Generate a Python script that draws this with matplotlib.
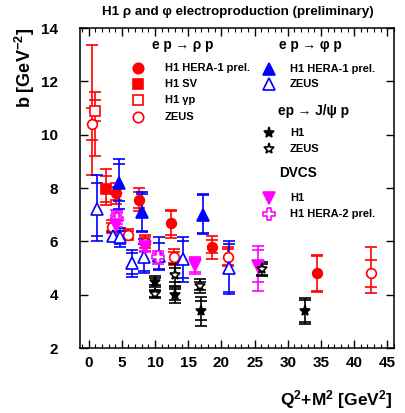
import matplotlib
matplotlib.use("Agg")
import matplotlib.pyplot as plt
from matplotlib.path import Path
import numpy as np

plt.rcParams['font.family'] = ['Liberation Sans', 'DejaVu Sans']
plt.rcParams['font.weight'] = 'bold'
plt.rcParams['mathtext.fontset'] = 'custom'
plt.rcParams['mathtext.rm'] = 'Liberation Sans:bold'
plt.rcParams['mathtext.bf'] = 'Liberation Sans:bold'
plt.rcParams['mathtext.default'] = 'bf'

# ---- data: x, b, total error (down, up), stat error ----
# rho, H1 HERA-1 prel.
rho_h1_x = [4.17, 7.53, 12.45, 18.56, 34.35]
rho_h1_y = [7.80, 7.55, 6.70, 5.80, 4.80]
rho_h1_lo = [0.40, 0.40, 0.59, 0.47, 0.69]
rho_h1_hi = [0.40, 0.45, 0.48, 0.40, 0.69]
rho_h1_st = [0.25, 0.30, 0.45, 0.25, 0.65]

# rho, H1 SV
rho_sv_x = [2.66]
rho_sv_y = [7.96]
rho_sv_lo = [0.60]
rho_sv_hi = [0.75]
rho_sv_st = [0.50]

# rho, H1 gamma p
rho_gp_x = [1.0]
rho_gp_y = [10.9]
rho_gp_lo = [1.70]
rho_gp_hi = [0.70]
rho_gp_st = [0.40]

# rho, ZEUS
rho_zeus_x = [0.56, 3.5, 5.9, 8.53, 12.84, 20.97, 42.55]
rho_zeus_y = [10.4, 6.55, 6.25, 5.95, 5.40, 5.43, 4.80]
rho_zeus_lo = [1.90, 0.25, 0.20, 0.30, 0.30, 0.35, 0.74]
rho_zeus_hi = [2.96, 0.25, 0.20, 0.30, 0.30, 0.35, 1.00]
rho_zeus_st = [0.60, 0.15, 0.15, 0.20, 0.20, 0.30, 0.50]

# phi, H1 HERA-1 prel.
phi_h1_x = [4.6, 7.98, 17.3]
phi_h1_y = [8.20, 7.09, 7.00]
phi_h1_lo = [1.00, 0.73, 0.70]
phi_h1_hi = [0.88, 0.77, 0.78]
phi_h1_st = [0.70, 0.70, 0.72]

# phi, ZEUS
phi_zeus_x = [1.31, 3.6, 4.8, 6.52, 8.32, 10.54, 14.19, 21.22]
phi_zeus_y = [7.20, 6.20, 6.15, 5.18, 5.40, 5.45, 5.33, 5.00]
phi_zeus_lo = [1.20, 0.20, 0.35, 0.53, 0.60, 0.52, 0.84, 0.99]
phi_zeus_hi = [1.30, 0.20, 0.35, 0.50, 0.70, 0.70, 0.82, 1.01]
phi_zeus_st = [1.00, 0.15, 0.25, 0.40, 0.50, 0.50, 0.70, 0.90]

# J/psi, H1
jpsi_h1_x = [10.04, 13.05, 16.96, 32.66]
jpsi_h1_y = [4.49, 4.00, 3.40, 3.39]
jpsi_h1_lo = [0.20, 0.32, 0.57, 0.49]
jpsi_h1_hi = [0.20, 0.30, 0.50, 0.47]
jpsi_h1_st = [0.12, 0.20, 0.35, 0.40]

# J/psi, ZEUS
jpsi_zeus_x = [10.04, 13.05, 16.8, 26.14]
jpsi_zeus_y = [4.03, 4.74, 4.33, 4.95]
jpsi_zeus_lo = [0.15, 0.40, 0.25, 0.25]
jpsi_zeus_hi = [0.15, 0.40, 0.25, 0.29]
jpsi_zeus_st = [0.10, 0.25, 0.15, 0.20]

# DVCS, H1
dvcs_h1_x = [4.17, 8.43, 15.95, 25.48]
dvcs_h1_y = [6.60, 5.80, 5.11, 5.07]
dvcs_h1_lo = [0.50, 0.20, 0.35, 0.92]
dvcs_h1_hi = [0.58, 0.25, 0.30, 0.76]
dvcs_h1_st = [0.40, 0.15, 0.25, 0.60]

# DVCS, H1 HERA-2 prel.
dvcs_h2_x = [4.3, 10.4]
dvcs_h2_y = [6.85, 5.40]
dvcs_h2_lo = [0.30, 0.25]
dvcs_h2_hi = [0.30, 0.25]
dvcs_h2_st = [0.20, 0.15]

RED, BLUE, MAG, BLK = '#ff0000', '#0000ff', '#ff00ff', '#000000'

# open cross marker outline
a, b = 0.35, 1.0
cross = Path([(-a, b), (a, b), (a, a), (b, a), (b, -a), (a, -a), (a, -b), (-a, -b),
              (-a, -a), (-b, -a), (-b, a), (-a, a), (-a, b)])

fig = plt.figure(figsize=(4.05, 4.13), dpi=100)
ax = fig.add_axes([80/405, 1-348/413, (394-80)/405, (348-28)/413])


def draw(x, y, lo, hi, st, color, marker, ms, filled, z=3, lw=1.2):
    x = np.array(x); y = np.array(y)
    ax.errorbar(x, y, yerr=[lo, hi], fmt='none', ecolor=color, elinewidth=lw,
                capsize=4.3, capthick=lw, zorder=z)
    st = np.array(st)
    ax.plot(x, y + st, ls='none', marker='_', ms=8.6, mew=lw, color=color, zorder=z)
    ax.plot(x, y - st, ls='none', marker='_', ms=8.6, mew=lw, color=color, zorder=z)
    fc = color if filled else 'white'
    ax.plot(x, y, ls='none', marker=marker, ms=ms, mfc=fc, mec=color,
            mew=1.2, zorder=z + 0.5)


draw(rho_zeus_x, rho_zeus_y, rho_zeus_lo, rho_zeus_hi, rho_zeus_st, RED, 'o', 7, False)
draw(rho_gp_x, rho_gp_y, rho_gp_lo, rho_gp_hi, rho_gp_st, RED, 's', 7, False)
draw(rho_sv_x, rho_sv_y, rho_sv_lo, rho_sv_hi, rho_sv_st, RED, 's', 7, True)
draw(phi_zeus_x, phi_zeus_y, phi_zeus_lo, phi_zeus_hi, phi_zeus_st, BLUE, '^', 8, False)
draw(dvcs_h2_x, dvcs_h2_y, dvcs_h2_lo, dvcs_h2_hi, dvcs_h2_st, MAG, cross, 8, False)
draw(dvcs_h1_x, dvcs_h1_y, dvcs_h1_lo, dvcs_h1_hi, dvcs_h1_st, MAG, 'v', 8, True)
draw(jpsi_zeus_x, jpsi_zeus_y, jpsi_zeus_lo, jpsi_zeus_hi, jpsi_zeus_st, BLK, '*', 8, False)
draw(jpsi_h1_x, jpsi_h1_y, jpsi_h1_lo, jpsi_h1_hi, jpsi_h1_st, BLK, '*', 8, True)
draw(rho_h1_x, rho_h1_y, rho_h1_lo, rho_h1_hi, rho_h1_st, RED, 'o', 7, True)
draw(phi_h1_x, phi_h1_y, phi_h1_lo, phi_h1_hi, phi_h1_st, BLUE, '^', 8, True)

ax.set_xlim(-1.3, 46.0)
ax.set_ylim(2, 14)
ax.set_xticks(np.arange(0, 46, 5))
ax.set_xticks(np.arange(-1, 47, 1), minor=True)
ax.set_yticks(np.arange(2, 15, 2))
ax.tick_params(axis='both', which='major', direction='in', top=True, right=True,
               length=6, width=1, labelsize=11)
ax.tick_params(axis='x', which='minor', direction='in', top=True, length=3, width=0.8)
ax.tick_params(axis='x', which='major', pad=6)
ax.tick_params(axis='y', which='major', pad=16)
for lab in ax.get_xticklabels() + ax.get_yticklabels():
    lab.set_fontweight('bold')
for s in ax.spines.values():
    s.set_linewidth(1.1)

fig.text(238/405, 1-12/413, 'H1 ρ and φ electroproduction (preliminary)',
         ha='center', va='center', fontsize=9.6, fontweight='bold')
fig.text(25/405, 1-68/413, r'b [GeV$^{-2}$]', rotation=90, ha='center', va='center',
         fontsize=13, fontweight='bold')
fig.text(393/405, 1-400/413, r'Q$^2$+M$^2$ [GeV$^2$]', ha='right', va='center',
         fontsize=12.5, fontweight='bold')


# ---- legend (drawn by hand) ----
def axf(px, py):
    return (px - 80) / (394 - 80), (348 - py) / (348 - 28)


def head(px, py, s, ha='center'):
    ax.text(*axf(px, py), s, transform=ax.transAxes, ha=ha, va='center',
            fontsize=9.8, fontweight='bold')


def entry(mx, tx, py, marker, color, filled, label, ms=8):
    fc = color if filled else 'white'
    ax.plot(*axf(mx, py), transform=ax.transAxes, marker=marker, ms=ms, mfc=fc,
            mec=color, mew=1.2, ls='none', clip_on=False)
    ax.text(*axf(tx, py), label, transform=ax.transAxes, ha='left', va='center',
            fontsize=8, fontweight='bold')


head(183, 45, 'e p → ρ p')
entry(138, 165, 68, 'o', RED, True, 'H1 HERA-1 prel.', 7.5)
entry(138, 165, 84, 's', RED, True, 'H1 SV', 7)
entry(138, 165, 100, 's', RED, False, 'H1 γp', 7)
entry(138, 165, 117, 'o', RED, False, 'ZEUS', 7.5)

head(310, 45, 'e p → φ p')
entry(269, 290, 69, '^', BLUE, True, 'H1 HERA-1 prel.')
entry(269, 290, 84, '^', BLUE, False, 'ZEUS')

head(278, 111, 'ep → J/ψ p', ha='left')
entry(269, 290, 133, '*', BLK, True, 'H1')
entry(269, 290, 149, '*', BLK, False, 'ZEUS')

head(279, 173, 'DVCS', ha='left')
entry(269, 290, 198, 'v', MAG, True, 'H1')
entry(269, 290, 214, cross, MAG, False, 'H1 HERA-2 prel.')

fig.savefig('out.png', dpi=100)
